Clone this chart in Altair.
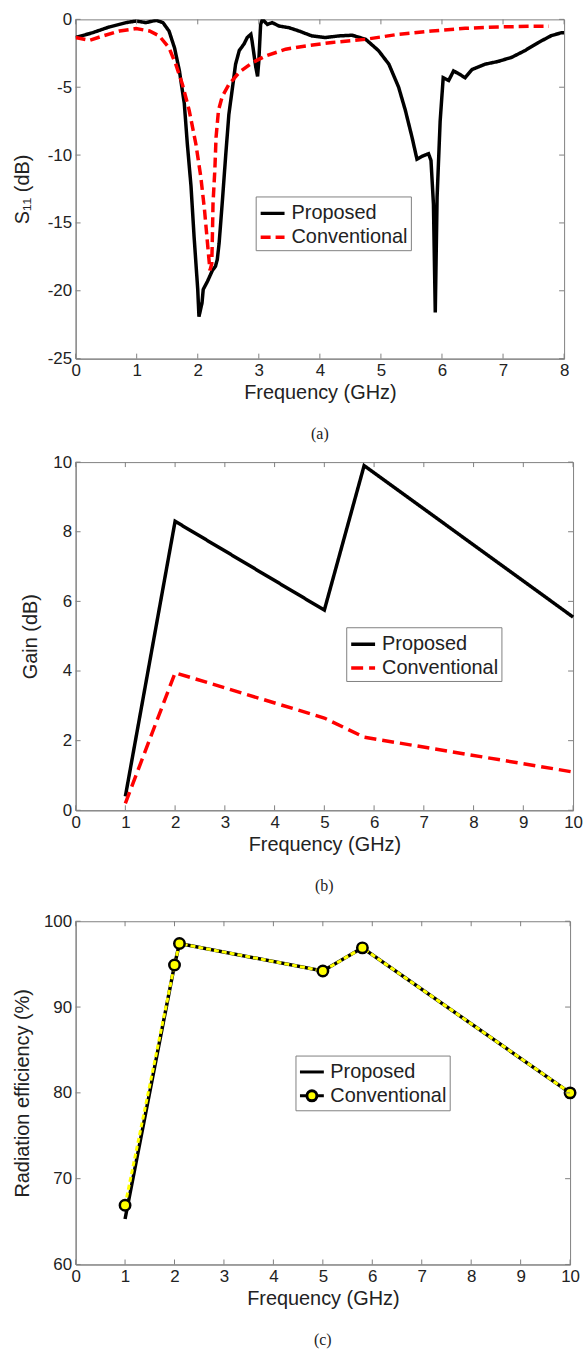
import altair as alt
import pandas as pd

FONT = "Liberation Sans"
SERIF = "Liberation Serif"
AX = "#808080"
TXT = "#222222"

# ---------------- Panel (a): S11 ----------------
a_prop_f = [0, 0.28, 0.55, 0.83, 0.99, 1.15, 1.32, 1.43, 1.53, 1.62, 1.70, 1.78, 1.83, 1.89,
            1.94, 2.0, 2.02, 2.07, 2.09, 2.16, 2.24, 2.29, 2.32, 2.35, 2.40, 2.46, 2.51, 2.57,
            2.62, 2.68, 2.76, 2.81, 2.87, 2.89, 2.95, 2.98, 3.0, 3.03, 3.06, 3.14, 3.22, 3.33,
            3.49, 3.66, 3.87, 4.09, 4.31, 4.53, 4.75, 4.96, 5.13, 5.29, 5.40, 5.51, 5.59, 5.67,
            5.78, 5.82, 5.86, 5.89, 5.92, 5.97, 6.02, 6.11, 6.19, 6.27, 6.38, 6.49, 6.71, 6.92,
            7.14, 7.36, 7.58, 7.79, 7.96, 8.0]
a_prop_db = [-1.34, -0.98, -0.56, -0.24, -0.12, -0.24, -0.07, -0.24, -0.86, -2.1, -3.8, -6.2,
             -9.2, -12.3, -16.0, -19.9, -21.9, -20.9, -19.9, -19.3, -18.5, -18.2, -17.7, -16.5,
             -13.6, -9.9, -7.0, -5.0, -3.3, -2.3, -1.8, -1.34, -1.1, -1.6, -3.5, -4.2, -3.1,
             -0.37, 0.0, -0.37, -0.24, -0.49, -0.61, -0.86, -1.22, -1.34, -1.22, -1.17, -1.47,
             -2.3, -3.3, -5.0, -6.7, -8.7, -10.3, -10.1, -9.9, -10.4, -13.6, -21.6, -13.1, -7.5,
             -4.3, -4.5, -3.8, -4.0, -4.3, -3.7, -3.3, -3.1, -2.8, -2.3, -1.7, -1.2, -0.98, -0.98]
a_conv_f = [0, 0.23, 0.45, 0.72, 0.99, 1.21, 1.37, 1.53, 1.64, 1.75, 1.86, 1.97, 2.05, 2.11,
            2.16, 2.20, 2.23, 2.24, 2.25, 2.28, 2.30, 2.34, 2.40, 2.51, 2.68, 2.89, 3.11, 3.44,
            3.77, 4.2, 4.75, 5.29, 5.83, 6.38, 6.92, 7.46, 7.75]
a_conv_db = [-1.34, -1.54, -1.22, -0.86, -0.68, -0.86, -1.22, -2.1, -3.3, -4.8, -6.7, -9.2,
             -11.6, -14.0, -16.5, -18.5, -18.0, -16.0, -13.6, -11.1, -8.7, -6.7, -5.7, -4.8,
             -3.9, -3.2, -2.7, -2.2, -1.96, -1.7, -1.47, -1.1, -0.86, -0.66, -0.56, -0.51, -0.51]

# ---------------- Panel (b): Gain ----------------
b_f = [1, 2, 5, 5.8, 10]
b_prop = [0.4, 8.3, 5.75, 9.9, 5.55]
b_conv = [0.2, 3.95, 2.65, 2.1, 1.1]

# ---------------- Panel (c): Radiation efficiency ----------------
c_f = [1, 2, 2.1, 5, 5.8, 10]
c_prop = [65.3, 94.9, 97.4, 94.2, 96.9, 80.0]
c_conv = [66.9, 94.9, 97.4, 94.2, 96.9, 80.0]

SERIES = ["Proposed", "Conventional"]
XT8 = list(range(0, 9))
XT10 = list(range(0, 11))
YT_A = [-25, -20, -15, -10, -5, 0]
YT_B = [0, 2, 4, 6, 8, 10]
YT_C = [60, 70, 80, 90, 100]


def long_df(f1, v1, f2, v2):
    d1 = pd.DataFrame({"f": f1, "val": v1, "series": SERIES[0]})
    d2 = pd.DataFrame({"f": f2, "val": v2, "series": SERIES[1]})
    return pd.concat([d1, d2], ignore_index=True)


def x_axis(vals):
    return alt.Axis(values=vals, title="Frequency (GHz)", ticks=False, tickSize=0, grid=False,
                    labelFlush=False, labelOverlap=False, labelPadding=4, titlePadding=4,
                    format="d")


def y_axis(vals, title, tpad):
    return alt.Axis(values=vals, title=title, ticks=False, tickSize=0, grid=False,
                    labelFlush=False, labelOverlap=False, labelPadding=4, titlePadding=tpad,
                    labelExpr="replace(datum.label, '\u2212', '-')")


def inner_ticks(xvals, yvals, xs, ys, xax, yax, W, H):
    tx = pd.DataFrame({"v": xvals})
    ty = pd.DataFrame({"v": yvals})
    L = 5
    bot = alt.Chart(tx).mark_rule(color=AX, strokeWidth=1).encode(
        x=alt.X("v:Q", scale=xs, axis=xax), y=alt.value(H), y2=alt.value(H - L))
    top = alt.Chart(tx).mark_rule(color=AX, strokeWidth=1).encode(
        x=alt.X("v:Q", scale=xs, axis=xax), y=alt.value(0), y2=alt.value(L))
    left = alt.Chart(ty).mark_rule(color=AX, strokeWidth=1).encode(
        y=alt.Y("v:Q", scale=ys, axis=yax), x=alt.value(0), x2=alt.value(L))
    right = alt.Chart(ty).mark_rule(color=AX, strokeWidth=1).encode(
        y=alt.Y("v:Q", scale=ys, axis=yax), x=alt.value(W - L), x2=alt.value(W))
    return [bot, top, left, right]


def line_legend(lx, ly):
    return alt.Legend(title=None, orient="none", legendX=lx, legendY=ly, symbolType="stroke",
                      symbolSize=576, symbolStrokeWidth=3.5, labelFont=FONT, labelFontSize=20,
                      labelColor=TXT, labelOffset=5, strokeColor=AX, fillColor="white",
                      padding=3, rowPadding=0, cornerRadius=0)


def caption(t):
    return alt.TitleParams(t, orient="bottom", font=SERIF, fontSize=16, fontWeight="normal",
                           color=TXT, offset=24, frame="group", anchor="middle")


# ---- (a)
WA, HA = 491, 341
dfa = long_df(a_prop_f, a_prop_db, a_conv_f, a_conv_db)
xa = alt.Scale(domain=[0, 8], nice=False, zero=False)
ya = alt.Scale(domain=[-25, 0], nice=False, zero=False)
xax_a = x_axis(XT8)
yax_a = y_axis(YT_A, "S\u2081\u2081 (dB)", 14.4)
lines_a = alt.Chart(dfa).mark_line(strokeWidth=3.5, clip=True).encode(
    x=alt.X("f:Q", scale=xa, axis=xax_a),
    y=alt.Y("val:Q", scale=ya, axis=yax_a),
    color=alt.Color("series:N", scale=alt.Scale(domain=SERIES, range=["black", "#ff0000"]),
                    legend=line_legend(181, 178)),
    strokeDash=alt.StrokeDash("series:N", scale=alt.Scale(domain=SERIES, range=[[1, 0], [10, 5]]),
                              legend=line_legend(181, 178)),
    order=alt.Order("f:Q"),
)
chart_a = alt.layer(lines_a, *inner_ticks(XT8, YT_A, xa, ya, xax_a, yax_a, WA, HA)).properties(
    width=WA, height=HA, title=caption("(a)"))

# ---- (b)
WB, HB = 500, 350
dfb = long_df(b_f, b_prop, b_f, b_conv)
xb = alt.Scale(domain=[0, 10], nice=False, zero=False)
yb = alt.Scale(domain=[0, 10], nice=False, zero=False)
xax_b = x_axis(XT10)
yax_b = y_axis(YT_B, "Gain (dB)", 12.1)
lines_b = alt.Chart(dfb).mark_line(strokeWidth=3.5).encode(
    x=alt.X("f:Q", scale=xb, axis=xax_b),
    y=alt.Y("val:Q", scale=yb, axis=yax_b),
    color=alt.Color("series:N", scale=alt.Scale(domain=SERIES, range=["black", "#ff0000"]),
                    legend=line_legend(272, 166)),
    strokeDash=alt.StrokeDash("series:N", scale=alt.Scale(domain=SERIES, range=[[1, 0], [12, 6]]),
                              legend=line_legend(272, 166)),
    order=alt.Order("f:Q"),
)
chart_b = alt.layer(lines_b, *inner_ticks(XT10, YT_B, xb, yb, xax_b, yax_b, WB, HB)).properties(
    width=WB, height=HB, title=caption("(b)"))

# ---- (c)
WC, HC = 497, 345
dfc = long_df(c_f, c_prop, c_f, c_conv)
xc = alt.Scale(domain=[0, 10], nice=False, zero=False)
yc = alt.Scale(domain=[60, 100], nice=False, zero=False)
xax_c = x_axis(XT10)
yax_c = y_axis(YT_C, "Radiation efficiency (%)", 10.6)
base_c = alt.Chart(dfc)
prop_c = base_c.transform_filter(alt.datum.series == "Proposed").mark_line(
    color="black", strokeWidth=3.5).encode(
    x=alt.X("f:Q", scale=xc, axis=xax_c),
    y=alt.Y("val:Q", scale=yc, axis=yax_c),
    order=alt.Order("f:Q"))
conv_line_c = base_c.transform_filter(alt.datum.series == "Conventional").mark_line(
    color="#ffff00", strokeWidth=3, strokeDash=[5, 3]).encode(
    x=alt.X("f:Q", scale=xc, axis=xax_c), y=alt.Y("val:Q", scale=yc, axis=yax_c),
    order=alt.Order("f:Q"))
conv_pts_c = base_c.transform_filter(alt.datum.series == "Conventional").mark_point(
    filled=True, fill="#ffff00", stroke="black", strokeWidth=2.5, size=110, opacity=1).encode(
    x=alt.X("f:Q", scale=xc, axis=xax_c), y=alt.Y("val:Q", scale=yc, axis=yax_c))

LINE_PATH = "M-1,0L1,0"
LINE_CIRCLE = ("M-1,0L-0.42,0M0.42,0L1,0M0.42,0A0.42,0.42,0,1,1,-0.42,0"
               "A0.42,0.42,0,1,1,0.42,0Z")
leg_c = alt.Legend(title=None, orient="none", legendX=221, legendY=135, symbolSize=576,
                   symbolStrokeWidth=3, labelFont=FONT, labelFontSize=20, labelColor=TXT,
                   labelOffset=5, strokeColor=AX, fillColor="white", padding=3, rowPadding=0,
                   cornerRadius=0)
legend_c = base_c.transform_filter("false").mark_point(filled=True, opacity=1, strokeWidth=3).encode(
    shape=alt.Shape("series:N", scale=alt.Scale(domain=SERIES, range=[LINE_PATH, LINE_CIRCLE]),
                    legend=leg_c),
    fill=alt.Fill("series:N", scale=alt.Scale(domain=SERIES, range=["black", "#ffff00"]),
                  legend=leg_c),
    stroke=alt.Stroke("series:N", scale=alt.Scale(domain=SERIES, range=["black", "black"]),
                      legend=leg_c),
)
chart_c = alt.layer(prop_c, conv_line_c, conv_pts_c, legend_c,
                    *inner_ticks(XT10, YT_C, xc, yc, xax_c, yax_c, WC, HC)).properties(
    width=WC, height=HC, title=caption("(c)"))

RES = dict(color="independent", strokeDash="independent", shape="independent",
           fill="independent", stroke="independent")

top_pair = alt.vconcat(chart_a, chart_b, spacing=9).resolve_scale(**RES).resolve_legend(**RES)

chart = alt.vconcat(top_pair, chart_c, spacing=16.5).resolve_scale(**RES).resolve_legend(
    **RES).properties(
    padding={"left": 12, "top": 6, "right": 2, "bottom": 0},
    background="white",
).configure_view(stroke=AX, strokeWidth=1).configure_axis(
    domainColor=AX, domainWidth=1, labelFont=FONT, labelFontSize=17, labelColor=TXT,
    titleFont=FONT, titleFontSize=20, titleFontWeight="normal", titleColor=TXT,
)

chart.save("out.html", embed_options={"renderer": "svg", "actions": False})
